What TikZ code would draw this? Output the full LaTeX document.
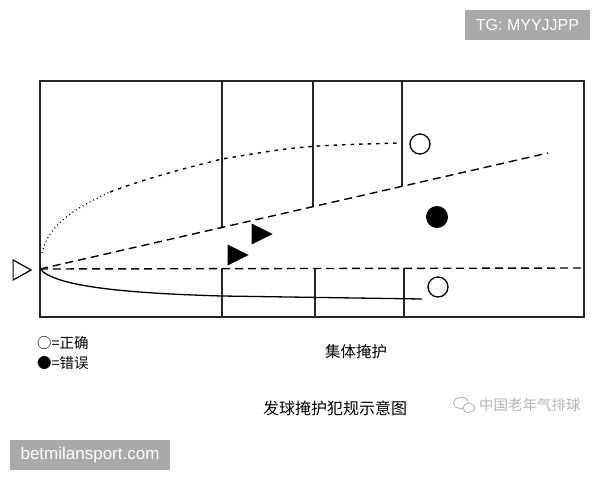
\documentclass[tikz,border=0pt]{standalone}
\usepackage{fontspec}
\setmainfont{Liberation Sans}
\newfontfamily\cjk{Noto Sans CJK SC}
\usetikzlibrary{shapes.geometric}
\definecolor{tagbg}{HTML}{A9A9A9}
\definecolor{wm}{HTML}{B4B4B4}
\begin{document}
\begin{tikzpicture}[x=1pt,y=-1pt,
  court/.style={line width=1.4pt, black!85},
  dashtraj/.style={line width=1.4pt, dash pattern=on 8pt off 5pt},
  dottraj/.style={line width=1.2pt, dash pattern=on 1pt off 3pt},
  shortdash/.style={line width=1.4pt, dash pattern=on 3.5pt off 5pt},
  soltraj/.style={line width=1.3pt},
  ballok/.style={circle, draw, line width=1.3pt, minimum size=20pt, inner sep=0pt},
  ballbad/.style={circle, fill, minimum size=22pt, inner sep=0pt},
  player/.style={isosceles triangle, isosceles triangle stretches, fill, inner sep=0pt, minimum width=21pt, minimum height=21pt},
  server/.style={isosceles triangle, isosceles triangle stretches, draw, line width=1.2pt, inner sep=0pt, minimum width=20pt, minimum height=18pt},
  cjktext/.style={font=\cjk\fontsize{#1}{#1}\selectfont, inner sep=0pt},
  tag/.style={fill=tagbg, text=white, inner sep=0pt}
]
\useasboundingbox (0,0) rectangle (600,480);
\fill[white] (0,0) rectangle (600,480);

% court
\coordinate (TL) at (40,81);
\coordinate (BR) at (584,317);
\draw[court] (TL) rectangle (BR);
\coordinate (O) at (40,269);
\coordinate (a1) at (222,81);  \coordinate (a2) at (222,227);
\coordinate (b1) at (313,81);  \coordinate (b2) at (313,207);
\coordinate (c1) at (402,81);  \coordinate (c2) at (402,186);
\draw[court] (a1) -- (a2) (b1) -- (b2) (c1) -- (c2);
\coordinate (d1) at (222,268); \coordinate (d2) at (222,317);
\coordinate (e1) at (315,268); \coordinate (e2) at (315,317);
\coordinate (f1) at (404,268); \coordinate (f2) at (404,317);
\draw[court] (d1) -- (d2) (e1) -- (e2) (f1) -- (f2);

% trajectories
\coordinate (H) at (584,268);
\draw[dashtraj] (O) -- (H);
\coordinate (U) at (548,153);
\draw[dashtraj] (O) -- (U);
\coordinate (P0) at (42,253);
\coordinate (P1) at (110,192);
\coordinate (P2) at (222,159);
\coordinate (P3) at (397,143);
\draw[dottraj] (P0) .. controls (48,225) and (75,208) .. (P1);
\draw[shortdash] (P1) .. controls (150,177) and (190,167) .. (P2) .. controls (300,146) .. (P3);
\coordinate (S1) at (222,296);
\coordinate (S2) at (422,299);
\draw[soltraj] (O) .. controls (55,286) and (120,293) .. (S1) -- (S2);

% server and players
\node[server] (srv) at (19,270) {};
\node[player] (p1) at (234,255) {};
\node[player] (p2) at (258,234) {};

% balls
\node[ballok] (ok1) at (420,144) {};
\node[ballbad] (bad) at (437,217) {};
\node[ballok] (ok2) at (438,287) {};

% texts
\node[cjktext=14.5, anchor=west] (leg1) at (37,343) {○=正确};
\node[cjktext=14.5, anchor=west] (leg2) at (37,363) {●=错误};
\node[cjktext=15.5] (zone) at (356,352) {集体掩护};
\node[cjktext=16] (title) at (335,408) {发球掩护犯规示意图};

% watermark
\draw[wm, line width=0.9pt] (461,403) ellipse [x radius=7.5pt, y radius=5.5pt];
\draw[wm, line width=0.9pt, fill=white] (469,408) ellipse [x radius=6pt, y radius=4.5pt];
\node[cjktext=14.5, text=wm, anchor=west] (wmtext) at (479,405) {中国老年气排球};

% tags
\node[tag, minimum width=125pt, minimum height=30pt, font=\fontsize{16}{16}\selectfont] (tg) at (527.5,25) {TG: MYYJJPP};
\node[tag, minimum width=160pt, minimum height=30pt, font=\fontsize{17}{17}\selectfont] (site) at (90,455) {betmilansport.com};
\end{tikzpicture}
\end{document}
